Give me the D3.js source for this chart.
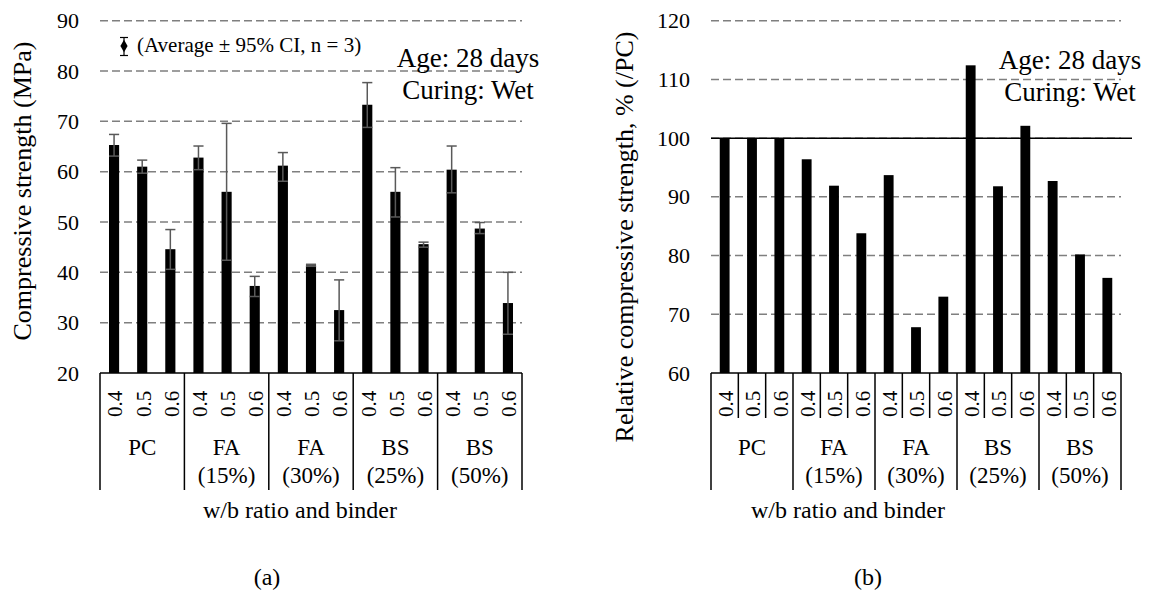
<!DOCTYPE html>
<html>
<head>
<meta charset="utf-8">
<script src="https://cdn.jsdelivr.net/npm/d3@7"></script>
<style>
  body { margin: 0; background: #fff; }
  text { font-family: "Liberation Serif", "Times New Roman", serif; fill: #000; }
</style>
</head>
<body>
<div id="chart"></div>
<script>
// w/b ratios and binder groups
var ratios = ["0.4", "0.5", "0.6"];
var groupNames = ["PC", "FA", "FA", "BS", "BS"];
var groupShares = ["", "(15%)", "(30%)", "(25%)", "(50%)"];

// compressive strength (MPa), mean and 95% CI bounds
var strength = [65.3, 61.0, 44.6, 62.8, 56.0, 37.3, 61.2, 41.4, 32.5, 73.3, 56.0, 45.6, 60.4, 48.7, 33.9];
var ciUpper  = [67.4, 62.3, 48.5, 65.1, 69.6, 39.2, 63.8, 41.6, 38.5, 77.7, 60.8, 46.0, 65.1, 49.9, 40.0];
var ciLower  = [63.1, 59.7, 40.6, 60.4, 42.4, 35.2, 58.1, 41.2, 26.4, 68.8, 51.0, 45.0, 55.8, 47.7, 27.7];

// relative compressive strength, % of PC
var relative = [100, 100, 100, 96.4, 91.9, 83.8, 93.7, 67.8, 73.0, 112.4, 91.8, 102.1, 92.7, 80.2, 76.2];

var leftTicks = [20, 30, 40, 50, 60, 70, 80, 90];
var rightTicks = [60, 70, 80, 90, 100, 110, 120];

var width = 1152, height = 594;
var svg = d3.select("#chart").append("svg")
    .attr("width", width)
    .attr("height", height);

var categories = [];
groupNames.forEach(function(g, gi) {
  ratios.forEach(function(r, ri) { categories.push(gi * 3 + ri); });
});

function drawPanel(opt) {
  var g = svg.append("g");
  var x = d3.scaleBand().domain(categories).range([opt.left, opt.right]).padding(0);
  var y = d3.scaleLinear().domain(opt.domain).range([373, 20.7]);
  var bw = x.bandwidth() * 0.36;

  // dashed gridlines
  g.append("g")
    .selectAll("line")
    .data(opt.ticks.slice(1))
    .enter().append("line")
      .attr("x1", opt.left).attr("x2", opt.right)
      .attr("y1", function(d) { return y(d); })
      .attr("y2", function(d) { return y(d); })
      .attr("stroke", "#7f7f7f")
      .attr("stroke-width", 1.5)
      .attr("stroke-dasharray", "8,4");

  // tick labels
  var axis = g.append("g")
    .attr("transform", "translate(" + opt.left + ",0)")
    .call(d3.axisLeft(y).tickValues(opt.ticks).tickSize(0).tickPadding(21));
  axis.select(".domain").remove();
  axis.selectAll("text")
    .style("font-family", "'Liberation Serif', 'Times New Roman', serif")
    .style("font-size", "22px")
    .attr("fill", "#000");

  // bars
  g.append("g")
    .selectAll("rect")
    .data(opt.values)
    .enter().append("rect")
      .attr("x", function(d, i) { return x(i) + (x.bandwidth() - bw) / 2; })
      .attr("y", function(d) { return y(d); })
      .attr("width", bw)
      .attr("height", function(d) { return y(opt.domain[0]) - y(d); })
      .attr("fill", "#000");

  if (opt.refLine != null) {
    g.append("line")
      .attr("x1", opt.left).attr("x2", opt.right + 11)
      .attr("y1", y(opt.refLine)).attr("y2", y(opt.refLine))
      .attr("stroke", "#000").attr("stroke-width", 1.5);
  }

  // error bars
  if (opt.upper) {
    var eb = g.append("g").attr("stroke", "#595959").attr("stroke-width", 1.5);
    opt.values.forEach(function(v, i) {
      var cx = x(i) + x.bandwidth() / 2;
      eb.append("line").attr("x1", cx).attr("x2", cx)
        .attr("y1", y(opt.upper[i])).attr("y2", y(opt.lower[i]));
      [opt.upper[i], opt.lower[i]].forEach(function(e) {
        eb.append("line").attr("x1", cx - bw / 2).attr("x2", cx + bw / 2)
          .attr("y1", y(e)).attr("y2", y(e));
      });
    });
  }

  // category table
  var tb = g.append("g").attr("stroke", "#000").attr("stroke-width", 1.5);
  tb.append("line").attr("x1", opt.left).attr("x2", opt.right).attr("y1", 373).attr("y2", 373);
  d3.range(0, 16, 3).forEach(function(i) {
    var xx = i < 15 ? x(i) : opt.right;
    tb.append("line").attr("x1", xx).attr("x2", xx).attr("y1", 373).attr("y2", 490);
  });
  if (opt.subLines) {
    d3.range(1, 15).filter(function(i) { return i % 3 !== 0; }).forEach(function(i) {
      tb.append("line").attr("x1", x(i)).attr("x2", x(i)).attr("y1", 373).attr("y2", 418);
    });
  }

  g.append("g")
    .selectAll("text")
    .data(categories)
    .enter().append("text")
      .attr("transform", function(d) {
        return "translate(" + (x(d) + x.bandwidth() / 2 + 1) + ",417) rotate(-90)";
      })
      .attr("dy", "0.35em")
      .style("font-size", "21px")
      .text(function(d) { return ratios[d % 3]; });

  groupNames.forEach(function(name, gi) {
    var cx = (x(gi * 3) + (gi < 4 ? x(gi * 3 + 3) : opt.right)) / 2;
    g.append("text").attr("x", cx).attr("y", 455)
      .attr("text-anchor", "middle").style("font-size", "23px").text(name);
    g.append("text").attr("x", cx).attr("y", 483)
      .attr("text-anchor", "middle").style("font-size", "23px").text(groupShares[gi]);
  });

  // titles
  g.append("text")
    .attr("transform", "translate(" + opt.yTitleX + "," + opt.yTitleY + ") rotate(-90)")
    .attr("text-anchor", "middle")
    .style("font-size", "26px")
    .text(opt.yTitle);
  g.append("text")
    .attr("x", opt.xTitleX).attr("y", 518)
    .attr("text-anchor", "middle")
    .style("font-size", "24px")
    .text("w/b ratio and binder");
  g.append("text")
    .attr("x", opt.labelX).attr("y", 585)
    .attr("text-anchor", "middle")
    .style("font-size", "24px")
    .text(opt.label);

  // age / curing note
  g.append("text").attr("x", opt.noteX).attr("y", opt.noteY)
    .attr("text-anchor", "middle").style("font-size", "27px").text("Age: 28 days");
  g.append("text").attr("x", opt.noteX).attr("y", opt.noteY + 32)
    .attr("text-anchor", "middle").style("font-size", "27px").text("Curing: Wet");

  return g;
}

var left = drawPanel({
  left: 100, right: 522, domain: [20, 90], ticks: leftTicks,
  values: strength, upper: ciUpper, lower: ciLower,
  yTitle: "Compressive strength (MPa)", yTitleX: 31, yTitleY: 191,
  xTitleX: 300, label: "(a)", labelX: 267,
  noteX: 468, noteY: 67
});

drawPanel({
  left: 711, right: 1121, domain: [60, 120], ticks: rightTicks,
  values: relative, refLine: 100, subLines: true,
  yTitle: "Relative compressive strength, % (/PC)", yTitleX: 633, yTitleY: 237,
  xTitleX: 848, label: "(b)", labelX: 868,
  noteX: 1070, noteY: 69
});

// legend for the error bars
var lg = left.append("g");
lg.append("path")
  .attr("d", d3.symbol().type(d3.symbolDiamond).size(45))
  .attr("transform", "translate(124,46)")
  .attr("fill", "#000");
lg.append("g").attr("stroke", "#000").attr("stroke-width", 1.2)
  .selectAll("line")
  .data([[124, 37.5, 124, 55.5], [120, 37.5, 128, 37.5], [120, 55.5, 128, 55.5]])
  .enter().append("line")
    .attr("x1", function(d) { return d[0]; }).attr("y1", function(d) { return d[1]; })
    .attr("x2", function(d) { return d[2]; }).attr("y2", function(d) { return d[3]; });
lg.append("text").attr("x", 137).attr("y", 52)
  .style("font-size", "21px")
  .text("(Average \u00b1 95% CI, n = 3)");
</script>
</body>
</html>
